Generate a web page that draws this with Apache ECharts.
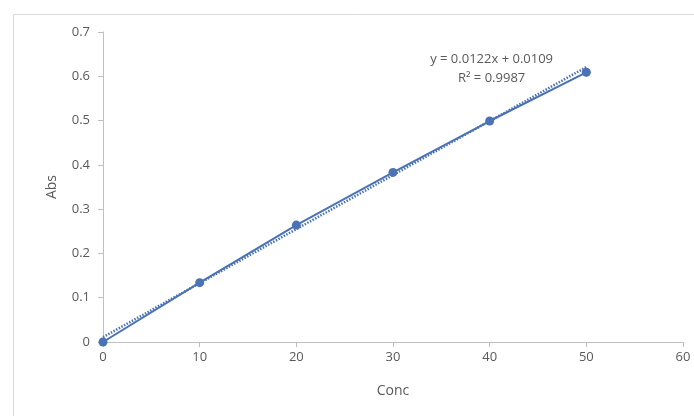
<!DOCTYPE html>
<html><head><meta charset="utf-8">
<script src="https://cdn.jsdelivr.net/npm/echarts@6/dist/echarts.min.js"></script>
<style>html,body{margin:0;padding:0;background:#fff}#c{width:694px;height:416px}</style>
</head><body><div id="c"></div>
<script>
var concValues = [0, 10, 20, 30, 40, 50];
var absValues = [0, 0.134, 0.264, 0.383, 0.499, 0.609];
var trendX = [0, 50];
var trendY = [0.0109, 0.6209];
var equationLines = ['y = 0.0122x + 0.0109', 'R² = 0.9987'];
var xAxisName = 'Conc';
var yAxisName = 'Abs';

var chart = echarts.init(document.getElementById('c'));
var pts = concValues.map(function(x, i){ return [x, absValues[i]]; });
var trend = trendX.map(function(x, i){ return [x, trendY[i]]; });
var col = '#4a72b4';
var txt = '#595959';
var ff = 'Open Sans';
chart.setOption({
  animation: false,
  grid: {left: 103, right: 11, top: 32, bottom: 74},
  xAxis: {
    type: 'value', min: 0, max: 60, interval: 10,
    name: xAxisName, nameLocation: 'middle', nameGap: 42,
    nameTextStyle: {color: txt, fontSize: 14, fontFamily: ff},
    axisLine: {show: true, lineStyle: {color: '#bfbfbf'}},
    axisTick: {show: true, length: 5, lineStyle: {color: '#bfbfbf'}},
    axisLabel: {color: txt, fontSize: 13, margin: 9, fontFamily: ff},
    splitLine: {show: false}
  },
  yAxis: {
    type: 'value', min: 0, max: 0.7, interval: 0.1,
    name: yAxisName, nameLocation: 'middle', nameGap: 44, nameRotate: 90,
    nameTextStyle: {color: txt, fontSize: 14, fontFamily: ff},
    axisLine: {show: true, lineStyle: {color: '#bfbfbf'}},
    axisTick: {show: true, length: 5, lineStyle: {color: '#bfbfbf'}},
    axisLabel: {color: txt, fontSize: 13, margin: 13, fontFamily: ff},
    splitLine: {show: false}
  },
  series: [{
    type: 'line', data: trend, symbol: 'none', silent: true,
    lineStyle: {color: col, width: 2.5, type: [1.5, 1.5]}, z: 1
  }, {
    type: 'line', data: pts, symbol: 'circle', symbolSize: 9,
    itemStyle: {color: col}, lineStyle: {color: col, width: 2}, z: 2
  }]
});
var p = chart.convertToPixel({gridIndex: 0}, [40.2, 0.66]);
chart.setOption({graphic: [{
  type: 'rect', left: 11, top: 12, z: -1,
  shape: {width: 700, height: 420},
  style: {fill: 'none', stroke: '#d9d9d9', lineWidth: 1}
}, {
  type: 'text', x: p[0], y: 50, z: 10,
  style: {text: equationLines.join('\n'), align: 'center', verticalAlign: 'top',
    fill: txt, fontSize: 13, lineHeight: 19, fontFamily: ff}
}]});
</script></body></html>
